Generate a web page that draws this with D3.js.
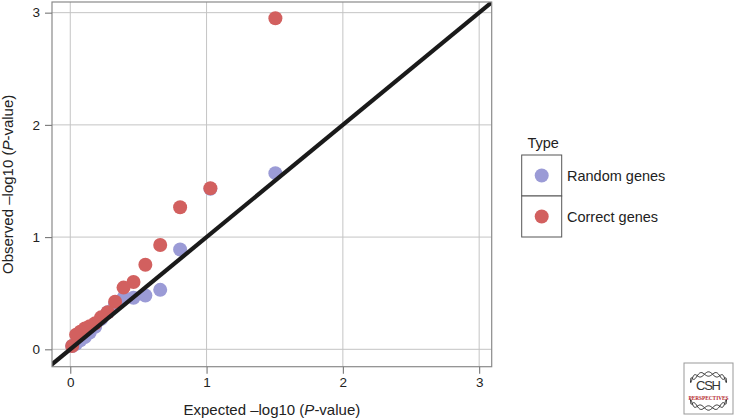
<!DOCTYPE html>
<html><head><meta charset="utf-8">
<script src="https://cdn.jsdelivr.net/npm/d3@7/dist/d3.min.js"></script>
<style>
html,body{margin:0;padding:0;background:#fff;}
svg{display:block;font-family:"Liberation Sans",Arial,Helvetica,sans-serif;}
</style></head>
<body>
<svg id="chart" width="738" height="419"></svg>
<script>
// ---- data ----
const expected   = [1.505, 1.028, 0.806, 0.660, 0.551, 0.464, 0.391, 0.329, 0.275, 0.226, 0.183, 0.143, 0.107, 0.074, 0.043, 0.014];
const randomObs  = [1.57, 1.43, 0.89, 0.53, 0.48, 0.46, 0.46, 0.40, 0.33, 0.27, 0.20, 0.15, 0.11, 0.08, 0.05, 0.03];
const correctObs = [2.95, 1.435, 1.266, 0.93, 0.754, 0.60, 0.55, 0.424, 0.33, 0.285, 0.232, 0.205, 0.185, 0.157, 0.13, 0.03];
const seriesNames = ["Random genes", "Correct genes"];
const seriesColors = ["#9b9bd6", "#d2605f"];
const xTicks = [0, 1, 2, 3];
const yTicks = [0, 1, 2, 3];
const xDomain = [-0.134, 3.092];
const yDomain = [-0.155, 3.095];

const svg = d3.select("#chart");
const L = 52, R = 491.7, T = 2, B = 366.7;
const x = d3.scaleLinear().domain(xDomain).range([L, R]);
const y = d3.scaleLinear().domain(yDomain).range([B, T]);

// grid
const g = svg.append("g");
g.selectAll("line.gx").data(xTicks).join("line")
  .attr("x1", d => x(d)).attr("x2", d => x(d)).attr("y1", T).attr("y2", B)
  .attr("stroke", "#c4c4c4").attr("stroke-width", 1);
g.selectAll("line.gy").data(yTicks).join("line")
  .attr("y1", d => y(d)).attr("y2", d => y(d)).attr("x1", L).attr("x2", R)
  .attr("stroke", "#c4c4c4").attr("stroke-width", 1);

// clip
svg.append("clipPath").attr("id", "clip").append("rect")
  .attr("x", L).attr("y", T).attr("width", R - L).attr("height", B - T);

const pts = svg.append("g").attr("clip-path", "url(#clip)");
const series = [randomObs, correctObs];
series.forEach((obs, si) => {
  pts.selectAll(null).data(obs).join("circle")
    .attr("cx", (d, i) => x(expected[i]))
    .attr("cy", d => y(d))
    .attr("r", 7)
    .attr("fill", seriesColors[si]);
});

// identity line
pts.append("line")
  .attr("x1", x(-1)).attr("y1", y(-1)).attr("x2", x(4)).attr("y2", y(4))
  .attr("stroke", "#1a1a1a").attr("stroke-width", 4.2);

// panel border
svg.append("rect").attr("x", L).attr("y", T).attr("width", R - L).attr("height", B - T)
  .attr("fill", "none").attr("stroke", "#8a8a8a").attr("stroke-width", 1.2);

// axes
const xAxis = svg.append("g").attr("transform", `translate(0,${B})`)
  .call(d3.axisBottom(x).tickValues(xTicks).tickSize(7).tickPadding(4).tickFormat(d3.format("d")));
const yAxis = svg.append("g").attr("transform", `translate(${L},0)`)
  .call(d3.axisLeft(y).tickValues(yTicks).tickSize(7).tickPadding(5).tickFormat(d3.format("d")));
[xAxis, yAxis].forEach(a => {
  a.select(".domain").remove();
  a.selectAll(".tick line").attr("stroke", "#777").attr("stroke-width", 1.1);
  a.selectAll(".tick text").attr("fill", "#222").style("font-size", "13.5px")
    .style("font-family", '"Liberation Sans",Arial,sans-serif');
});

// axis titles
const xt = svg.append("text").attr("x", (L + R) / 2).attr("y", 414.5)
  .attr("text-anchor", "middle").attr("fill", "#222").style("font-size", "15px");
xt.append("tspan").text("Expected \u2013log10 (");
xt.append("tspan").attr("font-style", "italic").text("P");
xt.append("tspan").text("-value)");

const yt = svg.append("text").attr("transform", `translate(13,${(T + B) / 2}) rotate(-90)`)
  .attr("text-anchor", "middle").attr("fill", "#222").style("font-size", "15px");
yt.append("tspan").text("Observed \u2013log10 (");
yt.append("tspan").attr("font-style", "italic").text("P");
yt.append("tspan").text("-value)");

// legend
const lg = svg.append("g");
lg.append("text").attr("x", 527.5).attr("y", 148).attr("fill", "#222").style("font-size", "14.5px").text("Type");
seriesNames.forEach((name, i) => {
  const y0 = 155 + i * 41;
  lg.append("rect").attr("x", 521.7).attr("y", y0).attr("width", 40).attr("height", 41)
    .attr("fill", "#fff").attr("stroke", "#555").attr("stroke-width", 1);
  lg.append("circle").attr("cx", 541.7).attr("cy", y0 + 20.5).attr("r", 7).attr("fill", seriesColors[i]);
  lg.append("text").attr("x", 567).attr("y", y0 + 25.5).attr("fill", "#222")
    .style("font-size", "14.5px").text(name);
});

// CSH Perspectives logo
const logo = svg.append("g").attr("transform", "translate(684,363)");
logo.append("rect").attr("x", 0).attr("y", 0).attr("width", 49).attr("height", 51)
  .attr("fill", "#fff").attr("stroke", "#999").attr("stroke-width", 1);
// twisted double strand along an arch (top) and a bowl (bottom)
const strand = (cy, dir, phase) => {
  const p = d3.path();
  for (let k = 0; k <= 60; k++) {
    const t = k / 60;
    const a = Math.PI * t;
    const cx = 24.5 - 18 * Math.cos(a);
    const base = cy - dir * 8 * Math.sin(a);
    const off = 2.2 * Math.sin(t * Math.PI * 7 + phase);
    const yy = base + off;
    if (k === 0) p.moveTo(cx, yy); else p.lineTo(cx, yy);
  }
  logo.append("path").attr("d", p.toString()).attr("fill", "none")
    .attr("stroke", "#333").attr("stroke-width", 1);
};
strand(19, 1, 0); strand(19, 1, Math.PI);
strand(37, -1, 0); strand(37, -1, Math.PI);
logo.append("text").attr("x", 24.5).attr("y", 27).attr("text-anchor", "middle")
  .attr("fill", "#333").style("font-size", "13px").style("font-family", '"Liberation Sans",Arial,sans-serif')
  .attr("textLength", 25).text("CSH");
logo.append("text").attr("x", 24.5).attr("y", 36.5).attr("text-anchor", "middle")
  .attr("fill", "#b5282e").style("font-size", "6px").style("font-weight", "bold")
  .style("font-family", '"Liberation Serif",serif').attr("textLength", 40)
  .attr("lengthAdjust", "spacingAndGlyphs").text("PERSPECTIVES");
</script>
</body></html>
